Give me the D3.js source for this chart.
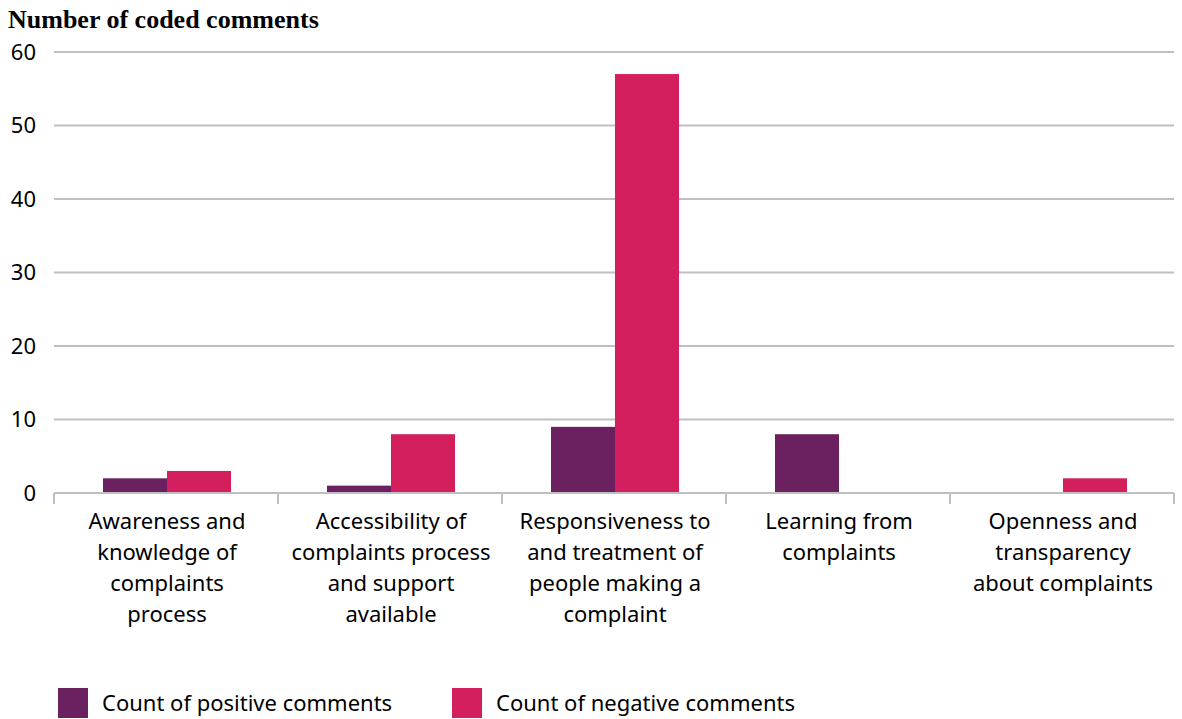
<!DOCTYPE html>
<html><head><meta charset="utf-8">
<script src="https://cdn.jsdelivr.net/npm/d3@7"></script>
<style>body{margin:0;background:#fff}svg{display:block}</style>
</head><body>
<script>
const categories = [
  ["Awareness and", "knowledge of", "complaints", "process"],
  ["Accessibility of", "complaints  process", "and support", "available"],
  ["Responsiveness to", "and  treatment of", "people making a", "complaint"],
  ["Learning from", "complaints"],
  ["Openness and", "transparency", "about  complaints"]
];
const positive = [2, 1, 9, 8, 0];
const negative = [3, 8, 57, 0, 2];
const seriesNames = ["Count of positive comments", "Count of negative comments"];
const yTicks = [0, 10, 20, 30, 40, 50, 60];
const colors = ["#6B2160", "#D41F5E"];
const title = "Number of coded comments";

const W = 1182, H = 719;
const m = {left: 54, right: 8, top: 52, bottom: 226};
const svg = d3.select("body").append("svg").attr("width", W).attr("height", H);
const font = "'Noto Sans', sans-serif";

const x = d3.scaleBand().domain(d3.range(categories.length)).range([m.left, W - m.right]).paddingInner(0).paddingOuter(0);
const y = d3.scaleLinear().domain([0, 60]).range([H - m.bottom, m.top]);
const xs = d3.scaleBand().domain([0, 1]).range([0, x.bandwidth()]).paddingInner(0).paddingOuter(0.75);

// gridlines
svg.append("g").selectAll("line").data(yTicks.filter(d => d > 0)).join("line")
  .attr("x1", m.left).attr("x2", W - m.right)
  .attr("y1", d => y(d)).attr("y2", d => y(d))
  .attr("stroke", "#BFBFBF").attr("stroke-width", 2);

// y labels
svg.append("g").selectAll("text").data(yTicks).join("text")
  .attr("x", 36).attr("y", d => y(d)).attr("dy", "0.36em")
  .attr("text-anchor", "end").attr("font-family", font).attr("font-size", 22)
  .attr("fill", "#000").text(d => d);

// bars
const data = categories.map((c, i) => [positive[i], negative[i]]);
const g = svg.append("g").selectAll("g").data(data).join("g")
  .attr("transform", (d, i) => `translate(${x(i) + 1},0)`);
g.selectAll("rect").data(d => d.map((v, k) => ({v, k}))).join("rect")
  .attr("x", d => xs(d.k)).attr("width", xs.bandwidth())
  .attr("y", d => y(d.v)).attr("height", d => y(0) - y(d.v))
  .attr("fill", d => colors[d.k]);

// x axis baseline and ticks
svg.append("line").attr("x1", m.left).attr("x2", W - m.right)
  .attr("y1", y(0)).attr("y2", y(0)).attr("stroke", "#BFBFBF").attr("stroke-width", 2);
const tickPos = d3.range(categories.length).map(i => x(i)).concat([x(categories.length - 1) + x.bandwidth()]);
svg.append("g").selectAll("line").data(tickPos).join("line")
  .attr("x1", d => d).attr("x2", d => d)
  .attr("y1", y(0)).attr("y2", y(0) + 11)
  .attr("stroke", "#BFBFBF").attr("stroke-width", 2);

// category labels
categories.forEach((lines, i) => {
  const cx = x(i) + x.bandwidth() / 2 + 1;
  const t = svg.append("text").attr("text-anchor", "middle")
    .attr("font-family", font).attr("font-size", 22).attr("fill", "#000")
    .attr("x", cx).attr("y", y(0) + 36);
  lines.forEach((l, j) => t.append("tspan").attr("x", cx)
    .attr("dy", j === 0 ? 0 : 31).text(l));
});

// title
svg.append("text").attr("x", 8).attr("y", 28)
  .attr("font-family", "'Liberation Serif', serif").attr("font-weight", "bold")
  .attr("font-size", 26).attr("fill", "#000").text(title);

// legend
const legX = [58, 452];
seriesNames.forEach((s, k) => {
  svg.append("rect").attr("x", legX[k]).attr("y", 688).attr("width", 30).attr("height", 30).attr("fill", colors[k]);
  svg.append("text").attr("x", legX[k] + 44).attr("y", 711)
    .attr("font-family", font).attr("font-size", 22).attr("fill", "#000").text(s);
});
</script>
</body></html>
